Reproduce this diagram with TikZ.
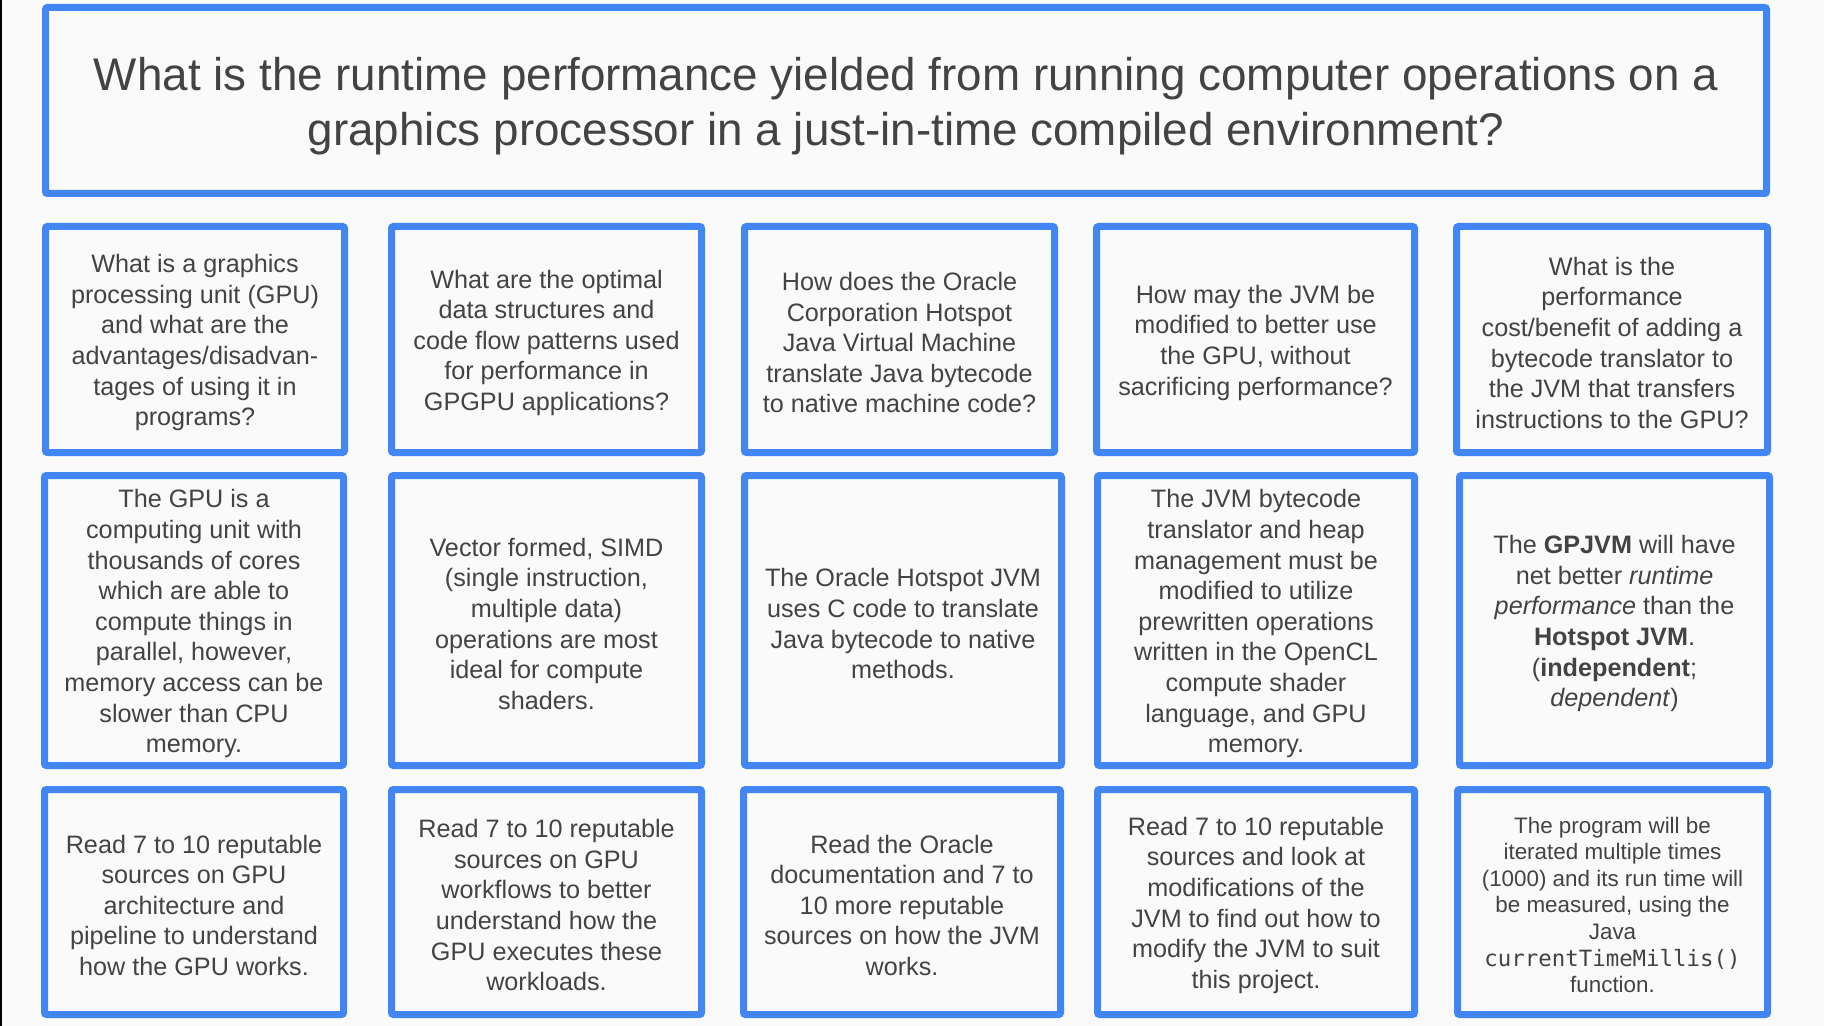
\documentclass[tikz,border=0pt]{standalone}
\usepackage{fontspec}
\setmainfont{Liberation Sans}
\setmonofont{DejaVu Sans Mono}
\usepackage{tikz}
\definecolor{gblue}{HTML}{4285F4}
\definecolor{ink}{HTML}{434343}
\definecolor{paper}{HTML}{FAFAFA}
\newcommand{\cellstrut}{\rule{0pt}{0.98em}} % pushes first line down a bit
\tikzset{
  cell/.style={draw=gblue,line width=3.5pt,rounded corners=1pt,fill=paper,text=ink,
    align=center,inner sep=0pt,font=\fontsize{12.6}{15.3}\selectfont}, % grid box
  topq/.style={cell,font=\fontsize{22.9}{27.5}\selectfont},          % main question
  smallc/.style={cell,font=\fontsize{11.2}{13.3}\selectfont},        % tighter text
  r1/.style={minimum height=113pt},
  r2/.style={minimum height=145pt},
  r3/.style={minimum height=112.5pt},
}

\begin{document}
\begin{tikzpicture}[x=0.5pt,y=-0.5pt]
  \fill[paper] (0,0) rectangle (1824,1026);
  \useasboundingbox (0,0) rectangle (1824,1026);
  \fill[black] (0,0) rectangle (1.5,1026);

  \node[topq,minimum width=860.5pt,minimum height=93pt] (main) at (906,100.5)
    {\cellstrut What is the runtime performance yielded from running computer operations on a\\
     graphics processor in a just-in-time compiled environment?};

  % research questions
  \node[cell,r1,minimum width=149.5pt] (q1) at (195,339.5)
    {\cellstrut What is a graphics\\ processing unit (GPU)\\ and what are the\\ advantages/disadvan-\\ tages of using it in\\ programs?};
  \node[cell,r1,minimum width=155pt] (q2) at (546.5,339.5)
    {\cellstrut What are the optimal\\ data structures and\\ code flow patterns used\\ for performance in\\ GPGPU applications?};
  \node[cell,r1,minimum width=155pt] (q3) at (899.5,339.5)
    {\cellstrut How does the Oracle\\ Corporation Hotspot\\ Java Virtual Machine\\ translate Java bytecode\\ to native machine code?};
  \node[cell,r1,minimum width=159pt] (q4) at (1255.5,339.5)
    {\cellstrut How may the JVM be\\ modified to better use\\ the GPU, without\\ sacrificing performance?};
  \node[cell,r1,minimum width=155.5pt] (q5) at (1612,339.5)
    {\cellstrut What is the\\ performance\\ cost/benefit of adding a\\ bytecode translator to\\ the JVM that transfers\\ instructions to the GPU?};

  % answers / hypothesis
  \node[cell,r2,minimum width=149.5pt] (a1) at (194,620.5)
    {\cellstrut The GPU is a\\ computing unit with\\ thousands of cores\\ which are able to\\ compute things in\\ parallel, however,\\ memory access can be\\ slower than CPU\\ memory.};
  \node[cell,r2,minimum width=155pt] (a2) at (546.5,620.5)
    {\cellstrut Vector formed, SIMD\\ (single instruction,\\ multiple data)\\ operations are most\\ ideal for compute\\ shaders.};
  \node[cell,r2,minimum width=158.5pt] (a3) at (903,620.5)
    {\cellstrut The Oracle Hotspot JVM\\ uses C code to translate\\ Java bytecode to native\\ methods.};
  \node[cell,r2,minimum width=158.5pt] (a4) at (1256,620.5)
    {\cellstrut The JVM bytecode\\ translator and heap\\ management must be\\ modified to utilize\\ prewritten operations\\ written in the OpenCL\\ compute shader\\ language, and GPU\\ memory.};
  \node[cell,r2,minimum width=155pt] (a5) at (1614.5,620.5)
    {\cellstrut The \textbf{GPJVM} will have\\ net better \textit{runtime}\\ \textit{performance} than the\\ \textbf{Hotspot JVM}.\\ (\textbf{independent};\\ \textit{dependent})};

  % methods
  \node[cell,r3,minimum width=149.5pt] (m1) at (194,902)
    {\cellstrut Read 7 to 10 reputable\\ sources on GPU\\ architecture and\\ pipeline to understand\\ how the GPU works.};
  \node[cell,r3,minimum width=155pt] (m2) at (546.5,902)
    {\cellstrut Read 7 to 10 reputable\\ sources on GPU\\ workflows to better\\ understand how the\\ GPU executes these\\ workloads.};
  \node[cell,r3,minimum width=158.5pt] (m3) at (902,902)
    {\cellstrut Read the Oracle\\ documentation and 7 to\\ 10 more reputable\\ sources on how the JVM\\ works.};
  \node[cell,r3,minimum width=158.5pt] (m4) at (1256,902)
    {\cellstrut Read 7 to 10 reputable\\ sources and look at\\ modifications of the\\ JVM to find out how to\\ modify the JVM to suit\\ this project.};
  \node[smallc,r3,minimum width=155pt] (m5) at (1612.5,902)
    {\cellstrut The program will be\\ iterated multiple times\\ (1000) and its run time will\\ be measured, using the\\ Java\\ \texttt{currentTimeMillis()}\\ function.};
\end{tikzpicture}
\end{document}
